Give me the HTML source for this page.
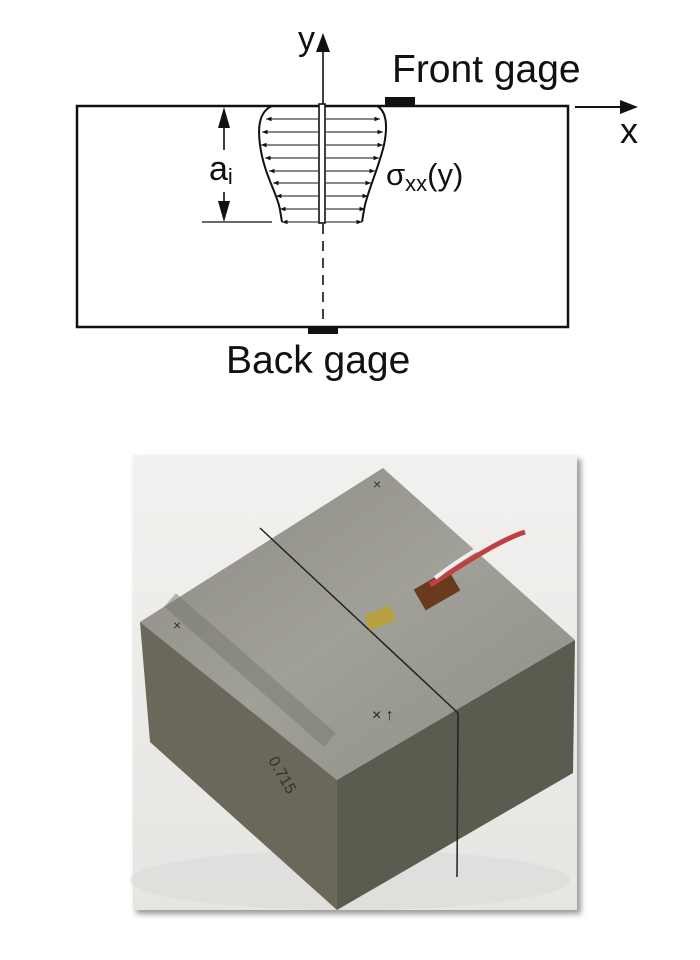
<!DOCTYPE html>
<html><head><meta charset="utf-8"><style>
html,body{margin:0;padding:0;background:#fff;width:700px;height:960px;overflow:hidden}
svg{display:block}
text{font-family:"Liberation Sans",Arial,sans-serif;fill:#111}
</style></head><body>
<svg width="700" height="960" viewBox="0 0 700 960" xmlns="http://www.w3.org/2000/svg">
<defs>
<marker id="sa" viewBox="0 0 10 10" refX="10" refY="5" markerWidth="5" markerHeight="5" orient="auto"><path d="M0,1 L10,5 L0,9 z" fill="#111"/></marker>
<filter id="sh" x="-5%" y="-5%" width="115%" height="115%"><feGaussianBlur stdDeviation="3"/></filter>
<linearGradient id="bg" x1="0" y1="0" x2="0" y2="1"><stop offset="0" stop-color="#f2f1ef"/><stop offset="1" stop-color="#e6e5e2"/></linearGradient>
<linearGradient id="top" x1="0" y1="0" x2="1" y2="1"><stop offset="0" stop-color="#8e8d84"/><stop offset="0.5" stop-color="#a09f98"/><stop offset="1" stop-color="#8f8e87"/></linearGradient>
</defs>
<!-- Diagram -->
<rect x="77" y="106" width="491" height="221" fill="none" stroke="#111" stroke-width="2.5"/>
<line x1="323" y1="45" x2="323" y2="104" stroke="#111" stroke-width="1.6"/>
<path d="M323,33 L316,52 L330,52 z" fill="#111"/>
<line x1="323" y1="224" x2="323" y2="326" stroke="#111" stroke-width="1.6" stroke-dasharray="10,7"/>
<rect x="385" y="97" width="30" height="9" fill="#111"/>
<rect x="308" y="327" width="30" height="7" fill="#111"/>
<line x1="575" y1="107" x2="622" y2="107" stroke="#111" stroke-width="2"/>
<path d="M620,100 L638,107 L620,114 z" fill="#111"/>
<text x="298" y="50" font-size="34">y</text>
<text x="620" y="143" font-size="36">x</text>
<text x="392" y="82" font-size="39">Front gage</text>
<text x="226" y="373" font-size="39">Back gage</text>
<text x="386" y="185" font-size="31">σ<tspan font-size="22" dy="6">xx</tspan><tspan dy="-6">(y)</tspan></text>
<text x="209" y="180" font-size="34">a<tspan font-size="22" dy="4">i</tspan></text>
<!-- crack -->
<rect x="319" y="104" width="6" height="119" fill="#fff" stroke="#111" stroke-width="1.6"/>
<!-- profile -->
<path d="M272,106 C258,112 258,130 260,145 C264,175 278,195 280,210 L282,222" fill="none" stroke="#111" stroke-width="2"/>
<path d="M377,106 C388,112 387,130 384,145 C378,170 366,195 364,210 L362,222" fill="none" stroke="#111" stroke-width="2"/>
<g stroke="#111" stroke-width="1.1" marker-end="url(#sa)">
<line x1="318" y1="119" x2="266" y2="119"/><line x1="326" y1="119" x2="380" y2="119"/>
<line x1="318" y1="132" x2="262" y2="132"/><line x1="326" y1="132" x2="383" y2="132"/>
<line x1="318" y1="145" x2="261" y2="145"/><line x1="326" y1="145" x2="383" y2="145"/>
<line x1="318" y1="158" x2="265" y2="158"/><line x1="326" y1="158" x2="379" y2="158"/>
<line x1="318" y1="171" x2="269" y2="171"/><line x1="326" y1="171" x2="375" y2="171"/>
<line x1="318" y1="183" x2="273" y2="183"/><line x1="326" y1="183" x2="371" y2="183"/>
<line x1="318" y1="196" x2="276" y2="196"/><line x1="326" y1="196" x2="368" y2="196"/>
<line x1="318" y1="209" x2="280" y2="209"/><line x1="326" y1="209" x2="365" y2="209"/>
<line x1="318" y1="222" x2="282" y2="222"/><line x1="326" y1="222" x2="362" y2="222"/>
</g>
<line x1="202" y1="222" x2="272" y2="222" stroke="#111" stroke-width="1.2"/>
<line x1="224" y1="118" x2="224" y2="150" stroke="#111" stroke-width="1.6"/>
<line x1="224" y1="192" x2="224" y2="212" stroke="#111" stroke-width="1.6"/>
<path d="M224,107 L218,128 L230,128 z" fill="#111"/>
<path d="M224,222 L218,201 L230,201 z" fill="#111"/>
<!-- Photo -->
<rect x="136" y="459" width="445" height="455" fill="#999" filter="url(#sh)"/>
<rect x="133" y="455" width="444" height="455" fill="url(#bg)"/>
<ellipse cx="350" cy="880" rx="220" ry="30" fill="#dcdbd8" opacity="0.6"/>
<polygon points="140,622 383,468 575,640 337,780" fill="url(#top)"/>
<polygon points="140,622 337,780 337,910 150,742" fill="#6a685b"/>
<polygon points="337,780 575,640 573,773 337,910" fill="#5c5b50"/>
<path d="M170,600 L330,740" stroke="#7a7970" stroke-width="18" opacity="0.5"/>
<line x1="260" y1="528" x2="458" y2="713" stroke="#222" stroke-width="1.5"/>
<line x1="458" y1="713" x2="457" y2="877" stroke="#222" stroke-width="1.5"/>
<rect x="366" y="610" width="28" height="16" fill="#b8a040" transform="rotate(-22 380 618)"/>
<rect x="417" y="578" width="40" height="24" fill="#6a3a20" transform="rotate(-30 437 590)"/>
<path d="M430,585 C470,560 500,540 525,532" stroke="#c04040" stroke-width="5" fill="none"/>
<path d="M435,578 C465,555 495,538 520,528" stroke="#eee" stroke-width="4" fill="none"/>
<text x="268" y="780" font-size="16" transform="rotate(60 285 770)" style="fill:#333">0.715</text>
<text x="372" y="720" font-size="16" style="fill:#222">× ↑</text>
<text x="173" y="630" font-size="14" style="fill:#333">×</text>
<text x="373" y="489" font-size="14" style="fill:#333">×</text>
</svg>
</body></html>
